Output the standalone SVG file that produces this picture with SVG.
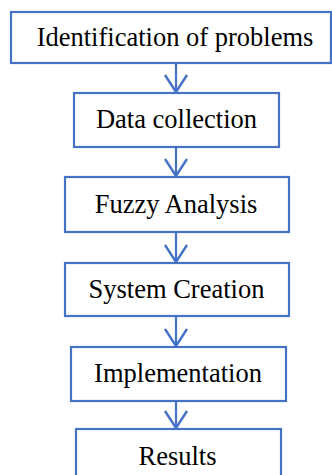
<svg xmlns="http://www.w3.org/2000/svg" width="332" height="475" viewBox="0 0 332 475">
<style>
.box{fill:#fff;stroke:#4472C4;stroke-width:2.2}
.lbl{font-family:"Liberation Serif","Times New Roman",serif;font-size:26.5px;fill:#000;text-anchor:middle}
.conn{stroke:#4472C4;stroke-width:2.2;fill:none}
</style>
<defs>
<marker id="arr" markerUnits="userSpaceOnUse" markerWidth="22" markerHeight="28" viewBox="-19 -14 22 28" refX="0" refY="0" orient="auto">
<path d="M-17,-11 L0,0 L-17,11" fill="none" stroke="#4472C4" stroke-width="2.4"/>
</marker>
</defs>
<rect width="332" height="475" fill="#fff"/>
<g id="connectors">
<line class="conn" x1="176" y1="63" x2="176" y2="92" marker-end="url(#arr)"/>
<line class="conn" x1="176" y1="147" x2="176" y2="176" marker-end="url(#arr)"/>
<line class="conn" x1="176" y1="232" x2="176" y2="262" marker-end="url(#arr)"/>
<line class="conn" x1="176" y1="316" x2="176" y2="346" marker-end="url(#arr)"/>
<line class="conn" x1="176" y1="401" x2="176" y2="428" marker-end="url(#arr)"/>
</g>
<g id="n1">
<rect class="box" x="11" y="12" width="320" height="51"/>
<text class="lbl" x="175" y="46">Identification of problems</text>
</g>
<g id="n2">
<rect class="box" x="74" y="93" width="205" height="54"/>
<text class="lbl" x="176.5" y="128">Data collection</text>
</g>
<g id="n3">
<rect class="box" x="65" y="177" width="224" height="55"/>
<text class="lbl" x="176" y="213">Fuzzy Analysis</text>
</g>
<g id="n4">
<rect class="box" x="65" y="263" width="224" height="53"/>
<text class="lbl" x="176.5" y="297.5">System Creation</text>
</g>
<g id="n5">
<rect class="box" x="71" y="347" width="215" height="54"/>
<text class="lbl" x="178" y="381.5">Implementation</text>
</g>
<g id="n6">
<rect class="box" x="76" y="429" width="205" height="60"/>
<text class="lbl" x="177.5" y="465">Results</text>
</g>
</svg>
